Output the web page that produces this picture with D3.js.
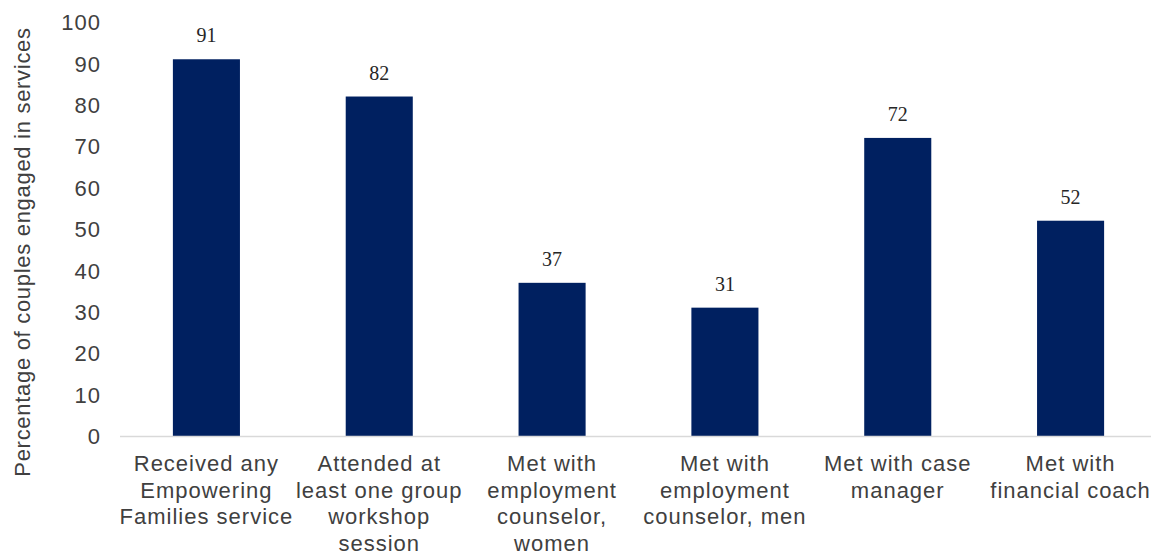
<!DOCTYPE html>
<html><head><meta charset="utf-8">
<script src="https://cdn.jsdelivr.net/npm/d3@7"></script>
<style>body{margin:0;background:#fff}svg{display:block}</style>
</head><body>
<svg id="c" width="1151" height="554"></svg>
<script>
const categories = [
  ["Received any","Empowering","Families service"],
  ["Attended at","least one group","workshop","session"],
  ["Met with","employment","counselor,","women"],
  ["Met with","employment","counselor, men"],
  ["Met with case","manager"],
  ["Met with","financial coach"]
];
const values = [91, 82, 37, 31, 72, 52];
const yTicks = [0,10,20,30,40,50,60,70,80,90,100];
const yTitle = "Percentage of couples engaged in services";

const svg = d3.select("#c");
const x0 = 120, x1 = 1157, yBase = 436, yTop = 22;
const idx = d3.range(values.length);
const x = d3.scaleBand().domain(idx).range([x0, x1]).padding(0);
const y = d3.scaleLinear().domain([0, 100]).range([yBase, yTop]);
const barW = x.bandwidth() * 0.388;
const txt = "#404040";

// y axis labels
const yAxis = d3.axisLeft(y).tickValues(yTicks).tickSize(0).tickPadding(0);
const gy = svg.append("g").attr("transform", `translate(101,0)`).call(yAxis);
gy.select(".domain").remove();
gy.selectAll("text").attr("font-family", "Liberation Sans, Arial, sans-serif")
  .attr("font-size", 22).attr("letter-spacing", 1).attr("fill", txt).attr("dy", "0.35em");

// bars
svg.append("g").selectAll("rect").data(values).join("rect")
  .attr("x", (d,i) => x(i) + x.bandwidth()/2 - barW/2)
  .attr("y", d => y(d))
  .attr("width", barW)
  .attr("height", d => yBase - y(d))
  .attr("fill", "#002060");

// x axis line
svg.append("line").attr("x1", x0).attr("x2", 1151).attr("y1", yBase + 0.5).attr("y2", yBase + 0.5)
  .attr("stroke", "#d9d9d9").attr("stroke-width", 1.5);

// value labels
svg.append("g").selectAll("text").data(values).join("text")
  .attr("x", (d,i) => x(i) + x.bandwidth()/2)
  .attr("y", d => y(d) - 17)
  .attr("text-anchor", "middle")
  .attr("font-family", "Liberation Serif, Times New Roman, serif")
  .attr("font-size", 20).attr("fill", "#262626")
  .text(d => d);

// category labels
const cg = svg.append("g");
categories.forEach((lines, i) => {
  const cx = x(i) + x.bandwidth()/2;
  const t = cg.append("text")
    .attr("x", cx)
    .attr("y", 471)
    .attr("text-anchor", "middle")
    .attr("font-family", "Liberation Sans, Arial, sans-serif")
    .attr("font-size", 22).attr("letter-spacing", 1).attr("fill", txt);
  lines.forEach((l, j) => {
    t.append("tspan").attr("x", cx).attr("dy", j === 0 ? 0 : 26.7).text(l);
  });
});

// y title
svg.append("text")
  .attr("transform", `translate(30,252) rotate(-90)`)
  .attr("text-anchor", "middle")
  .attr("font-family", "Liberation Sans, Arial, sans-serif")
  .attr("font-size", 22).attr("letter-spacing", 0.7).attr("fill", txt)
  .text(yTitle);
</script>
</body></html>
